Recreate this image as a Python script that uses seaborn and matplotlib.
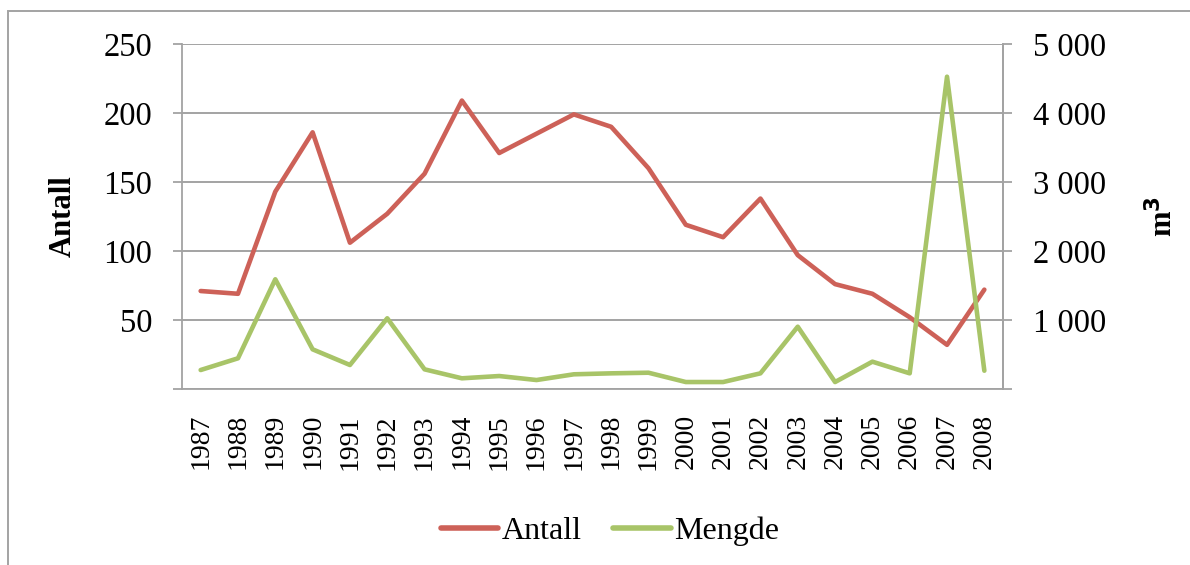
import matplotlib
matplotlib.use("Agg")
import matplotlib.pyplot as plt
import seaborn as sns
import pandas as pd
from matplotlib.patches import Rectangle
from matplotlib.lines import Line2D

years = [str(y) for y in range(1987, 2009)]
antall = [71, 69, 143, 186, 106, 127, 156, 209, 171, 185, 199, 190,
          160, 119, 110, 138, 97, 76, 69, 52, 32, 72]
mengde = [275, 445, 1590, 575, 348, 1025, 285, 155, 188, 130, 213, 227,
          236, 101, 101, 227, 903, 101, 396, 227, 4526, 265]

red = "#CD6158"
green = "#A8C468"
grid = "#A3A3A3"

df = pd.DataFrame({"year": years, "Antall": antall, "Mengde": mengde})

sns.set_style("white")
plt.rcParams["font.family"] = ["Liberation Serif", "DejaVu Serif"]
plt.rcParams["text.color"] = "black"
plt.rcParams["axes.labelcolor"] = "black"
plt.rcParams["xtick.labelcolor"] = "black"
plt.rcParams["ytick.labelcolor"] = "black"

fig = plt.figure(figsize=(11.9, 5.65), dpi=100)
ax = fig.add_axes([182 / 1190, 1 - 389 / 565, 821 / 1190, 345 / 565])
ax2 = ax.twinx()

sns.lineplot(data=df, x="year", y="Antall", ax=ax, color=red, linewidth=3.3,
             sort=False, solid_capstyle="round")
sns.lineplot(data=df, x="year", y="Mengde", ax=ax2, color=green, linewidth=3.3,
             sort=False, solid_capstyle="round")

n = len(years)
ax.set_xlim(-0.5, n - 0.5)
ax.set_ylim(0, 250)
ax2.set_ylim(0, 5000)

ax.set_yticks(range(0, 251, 50))
ax.set_yticklabels([""] + [str(v) for v in range(50, 251, 50)], fontsize=23.5)
ax2.set_yticks(range(0, 5001, 1000))
ax2.set_yticklabels([""] + [f"{v:,}".replace(",", " ") for v in range(1000, 5001, 1000)],
                    fontsize=23.5)

ax.set_xticks(range(n))
ax.set_xticklabels(years, rotation=90, fontsize=20)
ax.set_xticks([i - 0.5 for i in range(n + 1)], minor=True)
ax.tick_params(axis="x", which="major", length=0, pad=18)
ax.tick_params(axis="x", which="minor", length=6, width=1.3, color=grid, direction="out")
ax.tick_params(axis="y", length=6.5, width=1.3, color=grid, pad=15, direction="out", left=True)
ax2.tick_params(axis="y", length=6.5, width=1.3, color=grid, pad=15, direction="out", right=True)

ax.grid(axis="y", color=grid, linewidth=1.4)
ax.set_axisbelow(True)
for a in (ax, ax2):
    for side in ("left", "right", "bottom"):
        a.spines[side].set_color(grid)
        a.spines[side].set_linewidth(1.3)
    a.spines["top"].set_visible(False)
ax2.spines["left"].set_visible(False)
ax2.spines["bottom"].set_visible(False)

ax.set_xlabel("")
ax.set_ylabel("Antall", fontsize=22, fontweight="bold")
ax.yaxis.set_label_coords(-0.1267, 0.5)
ax2.set_ylabel("m$^\\mathbf{3}$", fontsize=22, fontweight="bold")
ax2.yaxis.set_label_coords(1.175, 0.5)
ax2.yaxis.label.set_rotation(90)

handles = [Line2D([], [], color=red, linewidth=4, solid_capstyle="round"),
           Line2D([], [], color=green, linewidth=4, solid_capstyle="round")]
fig.legend(handles, ["Antall", "Mengde"], loc="center", bbox_to_anchor=(610 / 1190, 1 - 531 / 565),
           ncol=2, frameon=False, fontsize=23, handlelength=1.8, handletextpad=0.1,
           columnspacing=1.0)

fig.patches.append(Rectangle((8 / 1190, -0.1), 1.2, 1.1 - 11 / 565, transform=fig.transFigure,
                             fill=False, edgecolor=grid, linewidth=1.4))

fig.savefig("out.png", dpi=100)
